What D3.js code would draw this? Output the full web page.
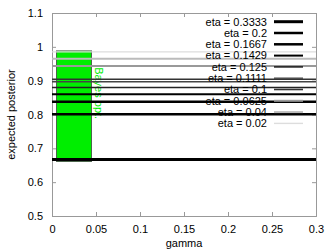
<!DOCTYPE html>
<html>
<head>
<meta charset="UTF-8" />
<script src="https://d3js.org/d3.v7.min.js"></script>
<style>
  body { margin: 0; background: #fff; }
  svg { font-family: "Liberation Sans", Arial, sans-serif; }
</style>
</head>
<body>
<div id="chart"></div>
<script>
// data
const etaLabels = ["0.3333", "0.2", "0.1667", "0.1429", "0.125", "0.1111", "0.1", "0.0625", "0.04", "0.02"];
const posterior = [0.667, 0.801, 0.838, 0.860, 0.880, 0.897, 0.904, 0.943, 0.965, 0.985];
const lineColors = ["#000", "#000", "#000", "#000", "#222", "#444", "#333", "#999", "#bbb", "#ddd"];
const lineWidths = [3, 2.5, 2.5, 2, 1.6, 1.4, 1.6, 2, 2, 1.4];
const bayesGamma = [0.005, 0.045];
const bayesRange = [0.661, 0.988];
const xTicks = [0, 0.05, 0.1, 0.15, 0.2, 0.25, 0.3];
const yTicks = [0.5, 0.6, 0.7, 0.8, 0.9, 1, 1.1];

const W = 335, H = 252;
const margin = { top: 13, right: 19, bottom: 36, left: 52 };
const width = W - margin.left - margin.right,
      height = H - margin.top - margin.bottom;

const root = d3.select("#chart").append("svg")
  .attr("width", W).attr("height", H);
const svg = root.append("g")
  .attr("transform", `translate(${margin.left},${margin.top})`);

const x = d3.scaleLinear().domain([0, 0.3]).range([0, width]);
const y = d3.scaleLinear().domain([0.5, 1.1]).range([height, 0]);

const fmt = d => String(+d.toFixed(2));

// axes with inward ticks, mirrored on top/right
svg.append("g")
  .attr("transform", `translate(0,${height})`)
  .call(d3.axisBottom(x).tickValues(xTicks).tickSize(-4).tickPadding(9).tickFormat(fmt));
svg.append("g")
  .call(d3.axisTop(x).tickValues(xTicks).tickSize(-4).tickFormat(""));
svg.append("g")
  .call(d3.axisLeft(y).tickValues(yTicks).tickSize(-4).tickPadding(9).tickFormat(fmt));
svg.append("g")
  .attr("transform", `translate(${width},0)`)
  .call(d3.axisRight(y).tickValues(yTicks).tickSize(-4).tickFormat(""));

svg.selectAll(".domain").attr("stroke", "#999");
svg.selectAll(".tick line").attr("stroke", "#999");
svg.selectAll(".tick text").attr("font-size", 11).attr("fill", "#000")
  .attr("font-family", "Liberation Sans, Arial, sans-serif");

// Bayes opt. bar
svg.append("rect")
  .attr("x", x(bayesGamma[0]))
  .attr("y", y(bayesRange[1]))
  .attr("width", x(bayesGamma[1]) - x(bayesGamma[0]))
  .attr("height", y(bayesRange[0]) - y(bayesRange[1]))
  .attr("fill", "#00ee00")
  .attr("stroke", "#444")
  .attr("stroke-width", 0.8);

svg.append("text")
  .attr("transform", `translate(${x(bayesGamma[1]) + 3},${y(0.94)}) rotate(90)`)
  .attr("font-size", 11)
  .attr("fill", "#00ee00")
  .text("Bayes opt.");

// horizontal eta lines, drawn light first
const idx = d3.range(etaLabels.length).reverse();
svg.selectAll(".eta")
  .data(idx)
  .enter().append("line")
  .attr("class", "eta")
  .attr("x1", x(0)).attr("x2", x(0.3))
  .attr("y1", i => y(posterior[i])).attr("y2", i => y(posterior[i]))
  .attr("stroke", i => lineColors[i])
  .attr("stroke-width", i => lineWidths[i]);

// legend
const legend = root.append("g");
const rowY = i => 21.7 + i * 11.3;
legend.selectAll("text")
  .data(etaLabels)
  .enter().append("text")
  .attr("x", 267)
  .attr("y", (d, i) => rowY(i))
  .attr("dy", "0.35em")
  .attr("text-anchor", "end")
  .attr("font-size", 11)
  .text(d => "eta = " + d);
legend.selectAll("line")
  .data(etaLabels)
  .enter().append("line")
  .attr("x1", 274).attr("x2", 303)
  .attr("y1", (d, i) => rowY(i)).attr("y2", (d, i) => rowY(i))
  .attr("stroke", (d, i) => lineColors[i])
  .attr("stroke-width", (d, i) => lineWidths[i]);

// axis titles
root.append("text")
  .attr("x", margin.left + width / 2)
  .attr("y", 247)
  .attr("text-anchor", "middle")
  .attr("font-size", 11)
  .text("gamma");
root.append("text")
  .attr("transform", `translate(15,${margin.top + height / 2}) rotate(-90)`)
  .attr("text-anchor", "middle")
  .attr("font-size", 11)
  .text("expected posterior");
</script>
</body>
</html>
